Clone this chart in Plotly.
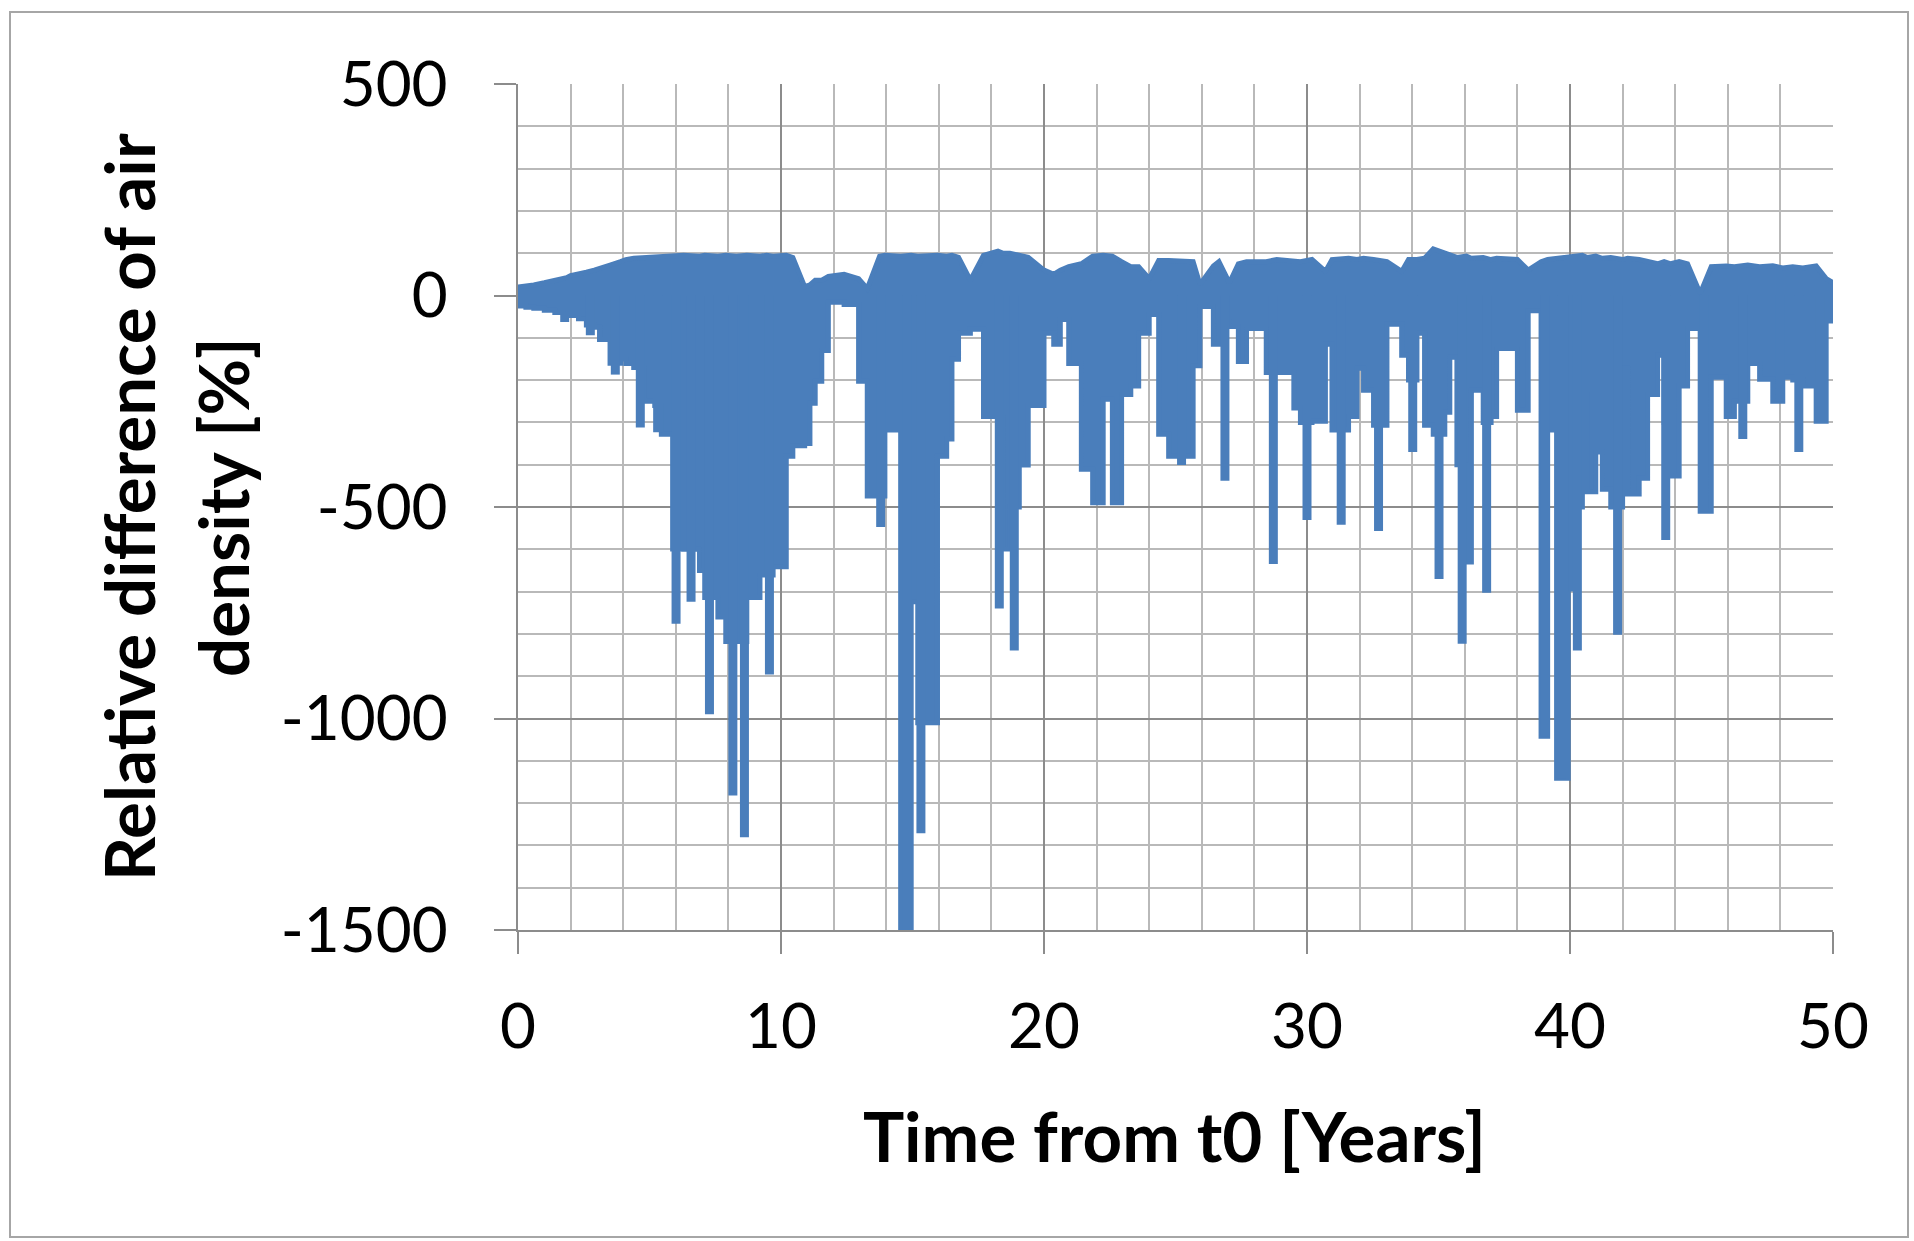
import plotly.graph_objects as go

# ---- data (years, % relative difference) ----
body_t = [0.0, 0.3, 0.6, 1.0, 1.4, 1.7, 1.85, 2.0, 2.3, 2.6, 2.9, 3.1, 3.5, 3.9, 4.1, 4.4, 4.8, 5.2, 5.45,
          5.88, 6.3, 6.9, 7.1, 7.6, 7.9, 8.3, 8.7, 9.2, 9.45, 9.7, 10.2, 10.45, 10.9, 11.1, 11.3, 11.55,
          11.8, 12.4, 12.95, 13.28, 13.75, 13.95, 14.55, 14.95, 15.2, 15.95, 16.3, 16.5, 16.75, 17.2,
          17.7, 18.25, 18.45, 18.7, 19.06, 19.4, 20.0, 20.37, 20.62, 20.94, 21.42, 21.85, 22.25, 22.6,
          22.95, 23.3, 23.6, 24.0, 24.36, 24.74, 25.67, 25.93, 26.44, 26.65, 27.05, 27.39, 27.7, 28.45,
          28.85, 29.5, 29.75, 30.19, 30.7, 30.95, 31.58, 31.9, 32.15, 32.53, 33.04, 33.6, 33.86, 34.18,
          34.47, 34.8, 35.24, 35.43, 35.7, 36.06, 36.25, 36.7, 37.0, 37.21, 38.0, 38.41, 38.9, 39.15,
          39.49, 39.93, 40.47, 40.66, 40.98, 41.23, 41.55, 42.0, 42.19, 42.63, 42.95, 43.33, 43.58,
          43.83, 44.15, 44.47, 44.95, 45.37, 45.94, 46.25, 46.76, 47.21, 47.71, 48.09, 48.47, 48.85,
          49.36, 49.74, 50.0]
body_hi = [20, 22, 25, 30, 35, 40, 42, 47, 50, 55, 60, 65, 72, 80, 85, 88, 90, 92, 93,
           93, 95, 93, 95, 93, 95, 93, 95, 93, 95, 93, 95, 90, 21, 25, 36, 36,
           45, 50, 40, 16, 93, 95, 93, 95, 93, 95, 93, 95, 90, 36,
           95, 105, 100, 100, 95, 90, 60, 50, 60, 68, 75, 93, 95, 93,
           80, 68, 68, 40, 83, 83, 80, 26, 70, 80, 30, 75, 80, 80,
           85, 80, 80, 85, 57, 85, 88, 85, 88, 85, 80, 57, 85, 85,
           88, 110, 100, 95, 90, 93, 88, 90, 85, 88, 85, 60, 80, 85,
           88, 90, 95, 90, 93, 88, 90, 85, 88, 85, 80, 75, 80,
           75, 80, 75, 5, 68, 70, 68, 72, 68, 70, 65, 68, 65,
           70, 40, 30]
body_lo = [-25, -28, -30, -35, -40, -57, -45, -47, -55, -70, -75, -104, -160, -150, -161, -170, -250, -260, -328,
           -599, -600, -650, -714, -760, -818, -818, -714, -661, -661, -641, -380, -355, -350, -255, -203, -130,
           -16, -21, -203, -474, -474, -318, -1520, -724, -1010, -380, -339, -151, -89, -80,
           -286, -286, -599, -500, -401, -260, -89, -115, -57, -161, -411, -490, -245, -490,
           -234, -214, -89, -45, -328, -380, -166, -26, -115, -60, -73, -156, -78, -182,
           -182, -266, -300, -297, -115, -318, -286, -172, -224, -307, -68, -141, -200, -89,
           -307, -328, -276, -146, -400, -630, -224, -300, -286, -125, -271, -36, -1042, -318,
           -1141, -500, -234, -464, -370, -458, -500, -172, -469, -432, -234, -141, -300,
           -427, -214, -78, -510, -193, -286, -250, -161, -198, -250, -193, -200, -214,
           -297, -60, -20]

spike_t = [2.75, 3.7, 4.65, 5.31, 6.01, 6.58, 7.28, 8.17, 8.61, 9.56, 13.79, 14.8, 15.32, 18.3, 18.87,
           25.23, 26.88, 28.72, 30.0, 31.3, 32.72, 34.02, 35.02, 35.9, 36.83, 39.04, 39.68, 40.1, 40.28,
           41.81, 43.64, 45.1, 46.57, 48.0, 48.7, 49.5]
spike_lo = [-94, -187, -312, -323, -776, -724, -990, -1182, -1281, -896, -547, -1520, -1271, -740, -839,
            -401, -438, -635, -531, -542, -557, -370, -670, -823, -703, -1042, -1141, -700, -839,
            -802, -578, -510, -339, -250, -370, -300]

x_ticks = [0, 10, 20, 30, 40, 50]
x_labels = ["0", "10", "20", "30", "40", "50"]
y_ticks = [-1500, -1000, -500, 0, 500]
y_labels = ["-1500", "-1000", "-500", "0", "500"]

BLUE = "#4A7EBB"
GRID = "#8C8C8C"
GRID_MINOR = "#B9B9B9"
FONT = "Lato"

fig = go.Figure()
fig.add_trace(go.Scatter(x=body_t, y=body_hi, mode="lines",
                         line=dict(color=BLUE, width=5), showlegend=False, hoverinfo="skip"))
fig.add_trace(go.Scatter(x=body_t, y=body_lo, mode="lines", fill="tonexty", fillcolor=BLUE,
                         line=dict(color=BLUE, width=5, shape="hv"), showlegend=False, hoverinfo="skip"))

sx, sy = [], []
for t, d in zip(spike_t, spike_lo):
    sx += [t, t, None]
    sy += [0, d, None]
fig.add_trace(go.Scatter(x=sx, y=sy, mode="lines", line=dict(color=BLUE, width=9),
                         showlegend=False, hoverinfo="skip"))

L, R, T, B = 518, 1833, 84, 930
W, H = 1914, 1241
pw, ph = R - L, B - T

def px_x(x):
    return (x - L) / pw

def px_y(y):
    return (B - y) / ph

fig.update_layout(
    width=W, height=H,
    margin=dict(l=L, r=W - R, t=T, b=H - B),
    paper_bgcolor="white", plot_bgcolor="white",
    font=dict(family=FONT, color="#000000"),
    xaxis=dict(range=[0, 50], tickvals=x_ticks, ticktext=x_labels, showgrid=True, gridcolor=GRID, gridwidth=2,
               minor=dict(dtick=2, tick0=0, showgrid=True, gridcolor=GRID_MINOR, gridwidth=2, ticks=""),
               showline=True, linecolor=GRID, linewidth=2, ticks="outside", ticklen=22,
               tickcolor=GRID, tickwidth=2, tickfont=dict(size=62, family=FONT),
               zeroline=False, ticklabelstandoff=20),
    yaxis=dict(range=[-1500, 500], tickvals=y_ticks, ticktext=y_labels, showgrid=True, gridcolor=GRID, gridwidth=2,
               minor=dict(dtick=100, tick0=0, showgrid=True, gridcolor=GRID_MINOR, gridwidth=2, ticks=""),
               showline=True, linecolor=GRID, linewidth=2, ticks="outside", ticklen=22,
               tickcolor=GRID, tickwidth=2, tickfont=dict(size=62, family=FONT),
               zeroline=False, ticklabelstandoff=34),
    annotations=[
        dict(text="<b>Relative difference of air</b>", x=px_x(128), y=0.5, xref="paper", yref="paper",
             textangle=-90, showarrow=False, xanchor="center", yanchor="middle",
             font=dict(size=69, family=FONT)),
        dict(text="<b>density [%]</b>", x=px_x(222), y=0.5, xref="paper", yref="paper",
             textangle=-90, showarrow=False, xanchor="center", yanchor="middle",
             font=dict(size=69, family=FONT)),
        dict(text="<b>Time from t0 [Years]</b>", x=px_x(1174), y=px_y(1135), xref="paper", yref="paper",
             showarrow=False, xanchor="center", yanchor="middle", font=dict(size=69, family=FONT)),
    ],
    shapes=[dict(type="rect", xref="paper", yref="paper", x0=px_x(10), x1=px_x(1908),
                 y0=px_y(1237), y1=px_y(12), line=dict(color="#A6A6A6", width=2))],
)

fig.write_html("out.html", config={"displayModeBar": False},
               post_script="document.body.style.margin='0';")
